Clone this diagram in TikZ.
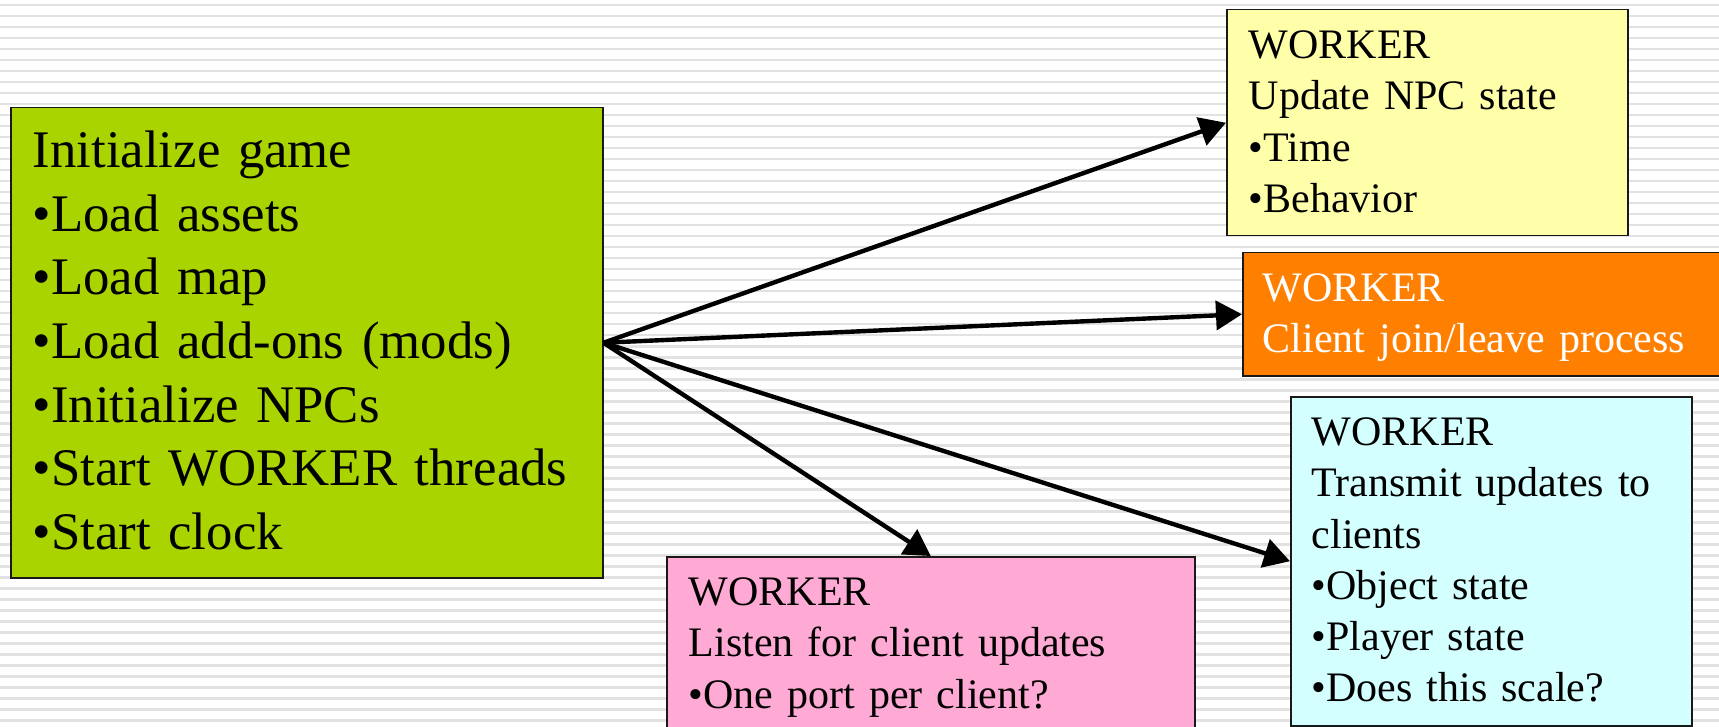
\documentclass[tikz,border=0pt]{standalone}
\usepackage{fontspec}
\setmainfont{Liberation Serif}
\usetikzlibrary{arrows.meta}
\definecolor{initgreen}{RGB}{170,212,0}
\definecolor{npcyellow}{RGB}{255,255,170}
\definecolor{joinorange}{RGB}{255,128,0}
\definecolor{sendcyan}{RGB}{212,255,255}
\definecolor{listenpink}{RGB}{255,170,212}
\definecolor{stripegray}{RGB}{226,226,226}

\begin{document}
\begin{tikzpicture}[x=0.5pt,y=-0.5pt,
  task/.style={draw=black!90,line width=0.75pt,anchor=north west,align=left,
    inner xsep=11pt,inner ysep=0pt,text height=24.5pt,
    font=\fontsize{21pt}{25.6pt}\selectfont},
  flow/.style={-{Triangle[length=13pt,width=14.5pt]},line width=2.2pt}]
  \useasboundingbox (0,0) rectangle (1719,727);
  \fill[white] (0,0) rectangle (1719,727);
  \foreach \k in {0,...,65}
    \fill[stripegray] (0,{4+11*\k}) rectangle (1719,{6.5+11*\k});
  \node[task,fill=initgreen,text width=274pt,text height=30pt,text depth=205pt,
    font=\fontsize{26.4pt}{31.8pt}\selectfont] (init) at (10,107)
    {Initialize game\\•Load assets\\•Load map\\•Load add-ons (mods)\\
     •Initialize NPCs\\•Start WORKER threads\\•Start clock};
  \node[task,fill=npcyellow,text width=178.5pt,text depth=88.5pt] (npc) at (1226,9)
    {WORKER\\Update NPC state\\•Time\\•Behavior};
  \node[task,fill=joinorange,text=white,inner xsep=10pt,text width=230pt,
    text depth=37pt] (join) at (1242,252)
    {WORKER\\Client join/leave process};
  \node[task,fill=sendcyan,inner xsep=10.5pt,text width=179.5pt,text depth=140pt]
    (send) at (1290,396)
    {WORKER\\Transmit updates to\\clients\\•Object state\\•Player state\\
     •Does this scale?};
  \node[task,fill=listenpink,text width=242pt,text depth=69.5pt] (listen) at (666,556)
    {WORKER\\Listen for client updates\\•One port per client?};
  \draw[flow] (init.east) -- (npc.west);
  \draw[flow] (init.east) -- (join.west);
  \draw[flow] (init.east) -- (send.west);
  \draw[flow] (init.east) -- (listen.north);
\end{tikzpicture}
\end{document}
